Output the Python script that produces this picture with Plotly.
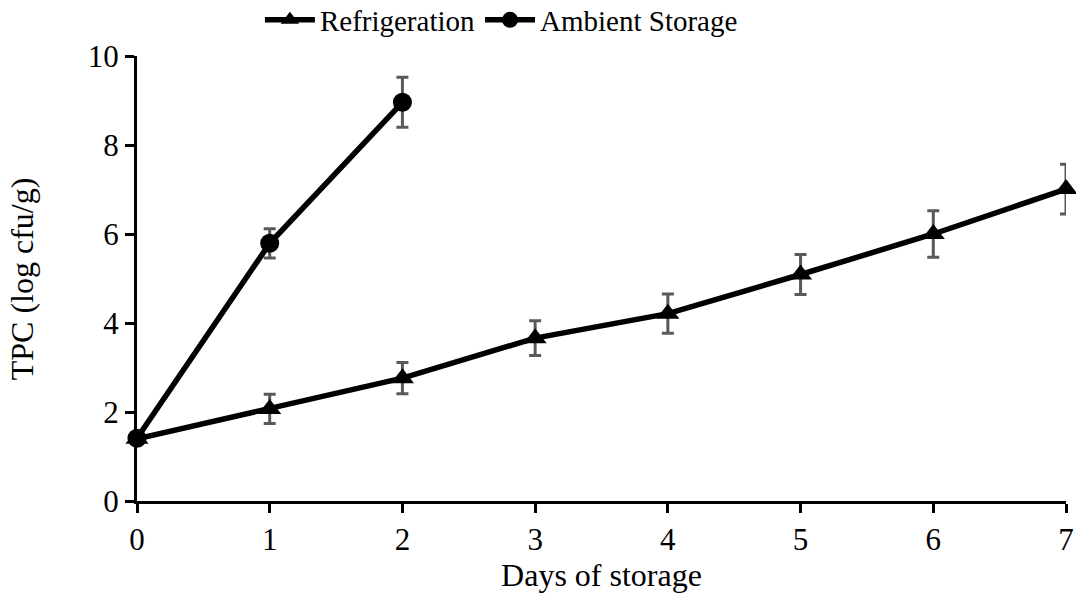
import plotly.graph_objects as go

days_refrig = [0, 1, 2, 3, 4, 5, 6, 7]
tpc_refrig = [1.40, 2.07, 2.76, 3.66, 4.21, 5.09, 6.00, 7.01]
err_refrig = [0.0, 0.33, 0.35, 0.39, 0.44, 0.45, 0.52, 0.56]

days_ambient = [0, 1, 2]
tpc_ambient = [1.41, 5.79, 8.96]
err_ambient = [0.0, 0.33, 0.56]

x_ticks = [0, 1, 2, 3, 4, 5, 6, 7]
y_ticks = [0, 2, 4, 6, 8, 10]

FONT = "Liberation Serif"
FS = 31
err_style = dict(type="data", visible=True, color="#595959", thickness=3, width=6)

fig = go.Figure()
fig.add_trace(go.Scatter(
    x=days_refrig, y=tpc_refrig, name="Refrigeration", mode="lines+markers",
    line=dict(color="black", width=5.5),
    marker=dict(symbol="triangle-up", size=20, color="black"),
    error_y=dict(array=err_refrig, **err_style),
    cliponaxis=False,
))
fig.add_trace(go.Scatter(
    x=days_ambient, y=tpc_ambient, name="Ambient Storage", mode="lines+markers",
    line=dict(color="black", width=5.5),
    marker=dict(symbol="circle", size=19, color="black"),
    error_y=dict(array=err_ambient, **err_style),
    cliponaxis=False,
))

fig.update_layout(
    width=1076, height=600,
    margin=dict(l=137, r=10, t=56, b=99, autoexpand=False),
    paper_bgcolor="white", plot_bgcolor="white",
    font=dict(family=FONT, size=FS, color="black"),
    showlegend=True,
    legend=dict(orientation="h", x=0.466, xanchor="center", xref="container",
                y=1.081, yanchor="middle", yref="paper",
                font=dict(family=FONT, size=29), itemwidth=50,
                bgcolor="rgba(0,0,0,0)", tracegroupgap=0),
    xaxis=dict(
        range=[0, 7], tickvals=x_ticks, ticktext=[str(v) for v in x_ticks],
        showgrid=False, zeroline=False, showline=True, linecolor="black", linewidth=3,
        ticks="outside", ticklen=9, tickwidth=3, tickcolor="black", automargin=True,
        title=dict(text="Days of storage", font=dict(family=FONT, size=32), standoff=0),
        tickfont=dict(family=FONT, size=FS),
    ),
    yaxis=dict(
        range=[0, 10], tickvals=y_ticks, ticktext=[str(v) for v in y_ticks],
        showgrid=False, zeroline=False, showline=True, linecolor="black", linewidth=3,
        ticks="outside", ticklen=9, tickwidth=3, tickcolor="black", automargin=False,
        tickfont=dict(family=FONT, size=FS),
    ),
    yaxis2=dict(
        range=[0, 10], overlaying="y", side="left", tickvals=y_ticks,
        showticklabels=False, showgrid=False, zeroline=False, showline=False,
        ticks="inside", ticklen=9, tickwidth=3, tickcolor="black", automargin=False,
        minor=dict(tickvals=[1, 3, 5, 7, 9], ticks="inside", ticklen=8,
                   tickwidth=3, tickcolor="black", showgrid=False),
    ),
    annotations=[dict(
        text="TPC (log cfu/g)", xref="paper", yref="paper", x=-0.124, y=0.5,
        xanchor="center", yanchor="middle", textangle=-90, showarrow=False,
        font=dict(family=FONT, size=32, color="black"),
    )],
)
fig.write_html("out.html")
